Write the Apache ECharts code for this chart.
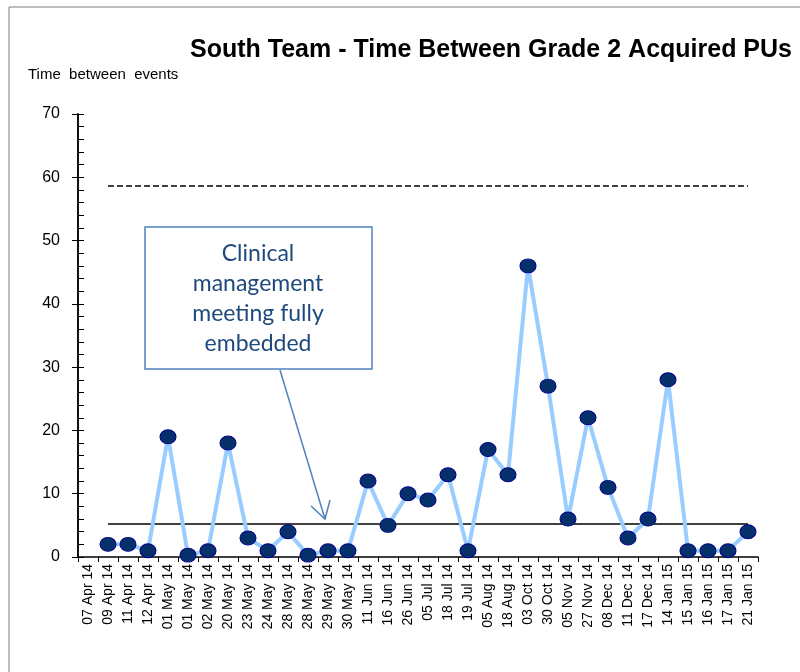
<!DOCTYPE html>
<html><head><meta charset="utf-8">
<script src="https://cdn.jsdelivr.net/npm/echarts@6/dist/echarts.min.js"></script>
<style>html,body{margin:0;padding:0;background:#fff}#c{width:800px;height:672px}</style>
</head><body><div id="c"></div>
<script>
const categories = ['07 Apr 14','09 Apr 14','11 Apr 14','12 Apr 14','01 May 14','01 May 14','02 May 14','20 May 14','23 May 14','24 May 14','28 May 14','28 May 14','29 May 14','30 May 14','11 Jun 14','16 Jun 14','26 Jun 14','05 Jul 14','18 Jul 14','19 Jul 14','05 Aug 14','18 Aug 14','03 Oct 14','30 Oct 14','05 Nov 14','27 Nov 14','08 Dec 14','11 Dec 14','17 Dec 14','14 Jan 15','15 Jan 15','16 Jan 15','17 Jan 15','21 Jan 15'];
const timeBetween = [null,2,2,1,19,0.3,1,18,3,1,4,0.3,1,1,12,5,10,9,13,1,17,13,46,27,6,22,11,3,6,28,1,1,1,4];
const centreLine = 5.2;
const upperLimit = 58.6;
const limitStart = 1, limitEnd = 33;
const yTicks = {min:0, max:70, major:10, minor:2};
const titleText = 'South Team - Time Between Grade 2 Acquired PUs';
const yName = 'Time  between  events';
const noteLines = ['Clinical','management','meeting fully','embedded'];

const chart = echarts.init(document.getElementById('c'));
const F = '"Liberation Sans", Arial, sans-serif';
chart.setOption({
  animation:false,
  backgroundColor:'#fff',
  title:{text:titleText,left:185,top:33,textStyle:{fontFamily:F,fontSize:25,fontWeight:'bold',color:'#000'}},
  grid:{left:78,right:42,top:114,bottom:115},
  xAxis:{type:'category',data:categories,boundaryGap:true,
    axisLine:{lineStyle:{color:'#000',width:1.5}},
    axisTick:{show:true,alignWithLabel:false,length:5,lineStyle:{color:'#000'}},
    axisLabel:{rotate:90,interval:0,fontFamily:F,fontSize:14,color:'#000',margin:7}},
  yAxis:[{type:'value',min:yTicks.min,max:yTicks.max,interval:yTicks.major,
    axisLine:{show:true,lineStyle:{color:'#000',width:1.5}},
    axisTick:{show:true,length:6,lineStyle:{color:'#000'}},
    splitLine:{show:false},
    axisLabel:{fontFamily:F,fontSize:16,color:'#000',margin:18}},
   {type:'value',min:yTicks.min,max:yTicks.max,interval:yTicks.minor,position:'left',
    axisLine:{show:true,lineStyle:{color:'#000',width:1.5}},
    axisTick:{show:true,inside:true,length:6,lineStyle:{color:'#000'}},
    splitLine:{show:false},axisLabel:{show:false}}],
  graphic:[
    {type:'rect',shape:{x:9,y:7,width:900,height:800},style:{fill:'none',stroke:'#7f7f7f',lineWidth:1}},
    {type:'text',left:28,top:67,style:{text:yName,fontFamily:F,fontSize:15,fill:'#000'}},
    {type:'rect',shape:{x:145,y:227,width:227,height:142},style:{fill:'#fff',stroke:'#4f81bd',lineWidth:1.5},z:10},
    {type:'text',x:258,y:239,z:11,style:{text:noteLines.join('\n'),fontFamily:'Lato, "Open Sans", sans-serif',fontSize:23,lineHeight:30,fill:'#1f497d',align:'center'}},
    {type:'polyline',z:10,shape:{points:[[280,370],[325,519]]},style:{stroke:'#4f81bd',lineWidth:1.5,fill:'none'}},
    {type:'polyline',z:10,shape:{points:[[311,506],[325,519],[330,500]]},style:{stroke:'#4f81bd',lineWidth:1.5,fill:'none'}}
  ],
  series:[{type:'line',data:timeBetween,connectNulls:false,
    lineStyle:{color:'#99ccff',width:4},
    symbol:'circle',symbolSize:[16,14],
    itemStyle:{color:'#06306a',borderColor:'#00008b',borderWidth:1},
    z:5,
    markLine:{silent:true,symbol:'none',label:{show:false},
      data:[
        [{coord:[limitStart,centreLine],lineStyle:{color:'#000',width:1.5,type:'solid'}},{coord:[limitEnd,centreLine]}],
        [{coord:[limitStart,upperLimit],lineStyle:{color:'#000',width:1.5,type:[6,3]}},{coord:[limitEnd,upperLimit]}]
      ]}
  }]
});
</script></body></html>
